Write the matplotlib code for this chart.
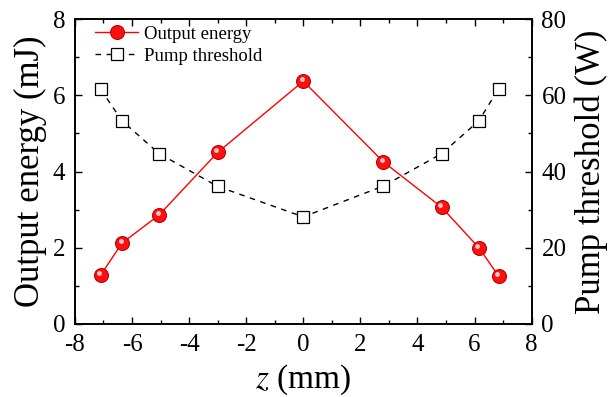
import matplotlib
matplotlib.use("Agg")
import matplotlib.pyplot as plt
from matplotlib.ticker import MultipleLocator
from matplotlib.transforms import offset_copy

plt.rcParams["font.family"] = ["Liberation Serif", "DejaVu Serif"]
plt.rcParams["mathtext.fontset"] = "stix"
plt.rcParams["axes.unicode_minus"] = False

# data
z_pos = [-7.1, -6.35, -5.05, -3.0, 0.0, 2.81, 4.85, 6.15, 6.84]
output_energy = [1.28, 2.12, 2.86, 4.50, 6.37, 4.25, 3.06, 2.00, 1.26]
pump_threshold = [61.6, 53.3, 44.7, 36.1, 28.1, 36.2, 44.7, 53.3, 61.7]

fig = plt.figure(figsize=(6.09, 3.97), dpi=100)
ax = fig.add_axes([0.123, 0.184, 0.750, 0.768])
ax2 = ax.twinx()

l1, = ax.plot(z_pos, output_energy, color="red", lw=1.0, marker="o",
              markersize=10, markerfacecolor="#ff1010", markeredgecolor="#c00000",
              markeredgewidth=0.8, label="Output energy", zorder=3)
# little highlight to mimic the shaded balls
ax.plot(z_pos, output_energy, ls="none", marker="o", markersize=3.5,
        markerfacecolor="#ffc8c8", markeredgecolor="none", zorder=4,
        transform=offset_copy(ax.transData, fig, x=-1.5, y=2, units="dots"))
l2, = ax2.plot(z_pos, pump_threshold, color="black", lw=1.0, ls=(0, (4, 4)),
               marker="s", markersize=8.5, markerfacecolor="white",
               markeredgecolor="black", markeredgewidth=0.9,
               label="Pump threshold")
ax.set_zorder(ax2.get_zorder() + 1)
ax.patch.set_visible(False)

ax.set_xlim(-8, 8)
ax.set_ylim(0, 8)
ax2.set_ylim(0, 80)
ax.xaxis.set_major_locator(MultipleLocator(2))
ax.xaxis.set_minor_locator(MultipleLocator(1))
ax.yaxis.set_major_locator(MultipleLocator(2))
ax.yaxis.set_minor_locator(MultipleLocator(1))
ax2.yaxis.set_major_locator(MultipleLocator(20))
ax2.yaxis.set_minor_locator(MultipleLocator(10))

ax.tick_params(which="both", direction="in", top=True, labelsize=18, width=1.0, pad=7)
ax.tick_params(which="major", length=5)
ax.tick_params(which="minor", length=3)
ax.tick_params(axis="y", right=False)
ax2.tick_params(which="both", direction="in", labelsize=18, width=1.0, pad=7)
ax2.tick_params(which="major", length=5)
ax2.tick_params(which="minor", length=3)
for a in (ax, ax2):
    for s in a.spines.values():
        s.set_linewidth(1.2)

ax.set_xlabel("$z$ (mm)", fontsize=24, labelpad=5)
ax.set_ylabel("Output energy (mJ)", fontsize=25, labelpad=4)
ax2.set_ylabel("Pump threshold (W)", fontsize=25, labelpad=6)

ax.legend(handles=[l1, l2], loc="upper left", frameon=False, fontsize=13.5,
          handlelength=2.3, handletextpad=0.3, borderaxespad=0.05,
          borderpad=0.3, labelspacing=0.25, bbox_to_anchor=(0.03, 1.0))

fig.savefig("out.png", dpi=100)
